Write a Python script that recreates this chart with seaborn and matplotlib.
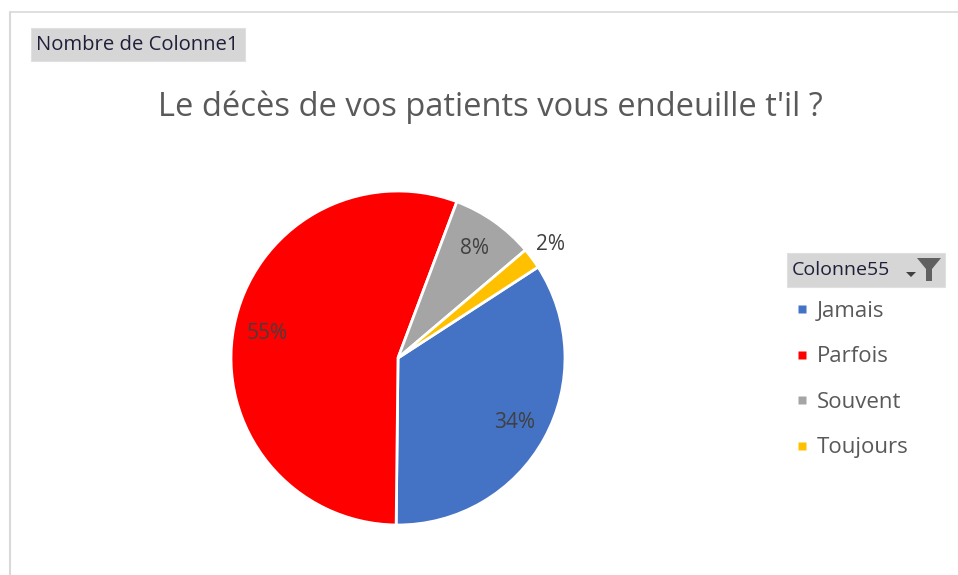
import numpy as np
import matplotlib.pyplot as plt
import seaborn as sns
from matplotlib.lines import Line2D
from matplotlib.patches import Rectangle, Polygon

categories = ["Jamais", "Parfois", "Souvent", "Toujours"]
values = [34, 55, 8, 2]
colors = ["#4472C4", "#FF0000", "#A5A5A5", "#FFC000"]
title = "Le décès de vos patients vous endeuille t'il ?"

sns.set_theme(style="white")
plt.rcParams["font.family"] = ["Open Sans", "DejaVu Sans"]

W, H = 958, 575
fig = plt.figure(figsize=(W / 100, H / 100), dpi=100)


def fx(px):
    return px / W


def fy(py):
    return 1 - py / H


# chart area border (top and left)
fig.add_artist(Line2D([fx(10), fx(958)], [fy(12), fy(12)], color="#d9d9d9", lw=1.2))
fig.add_artist(Line2D([fx(10), fx(10)], [fy(12), fy(575)], color="#d9d9d9", lw=1.5))

# pie
cx, cy, r = 398, 358, 167
ax = fig.add_axes([fx(cx - r), fy(cy + r), (2 * r) / W, (2 * r) / H])
total = sum(values)
wedges, texts, autotexts = ax.pie(
    values,
    colors=colors,
    startangle=33,
    counterclock=False,
    autopct=lambda p: f"{round(p * total / 100):d}%",
    pctdistance=0.8,
    wedgeprops=dict(edgecolor="white", linewidth=2),
    textprops=dict(color="#404040", fontsize=15),
)
ax.set_xlim(-1, 1)
ax.set_ylim(-1, 1)

# small slice label goes outside
w = wedges[-1]
mid = np.deg2rad((w.theta1 + w.theta2) / 2)
autotexts[-1].set_position((1.14 * np.cos(mid), 1.14 * np.sin(mid)))

fig.text(fx(490), fy(107), title, ha="center", va="center",
         fontsize=23.5, color="#595959")

# field buttons
fig.add_artist(Rectangle((fx(31), fy(61)), fx(245 - 31), (61 - 28) / H,
                         facecolor="#d6d6d6", edgecolor="#e0e0e0", lw=0.8))
fig.text(fx(36), fy(45), "Nombre de Colonne1", ha="left", va="center",
         fontsize=14.6, color="#1f1f3a")

fig.add_artist(Rectangle((fx(787), fy(287)), fx(945 - 787), (287 - 253) / H,
                         facecolor="#d6d6d6", edgecolor="#e0e0e0", lw=0.8))
fig.text(fx(792), fy(270), "Colonne55", ha="left", va="center",
         fontsize=14, color="#1f1f3a")
# dropdown arrow and filter funnel
fig.add_artist(Polygon([[fx(906), fy(272)], [fx(916), fy(272)], [fx(911), fy(277)]],
                       closed=True, facecolor="#404040", edgecolor="none"))
fig.add_artist(Polygon([[fx(917), fy(258)], [fx(941), fy(258)], [fx(932), fy(269)],
                        [fx(932), fy(281)], [fx(926), fy(281)], [fx(926), fy(269)]],
                       closed=True, facecolor="#606060", edgecolor="none"))

# legend
handles = [Line2D([0], [0], marker="s", linestyle="none", markersize=6,
                  markerfacecolor=c, markeredgecolor="none") for c in colors]
fig.legend(handles, categories, loc="upper left",
           bbox_to_anchor=(fx(778), fy(281)), frameon=False,
           fontsize=16, labelcolor="#595959", handlelength=0.4,
           handletextpad=0.45, labelspacing=1.1)

fig.savefig("out.png", dpi=100, facecolor="white")
